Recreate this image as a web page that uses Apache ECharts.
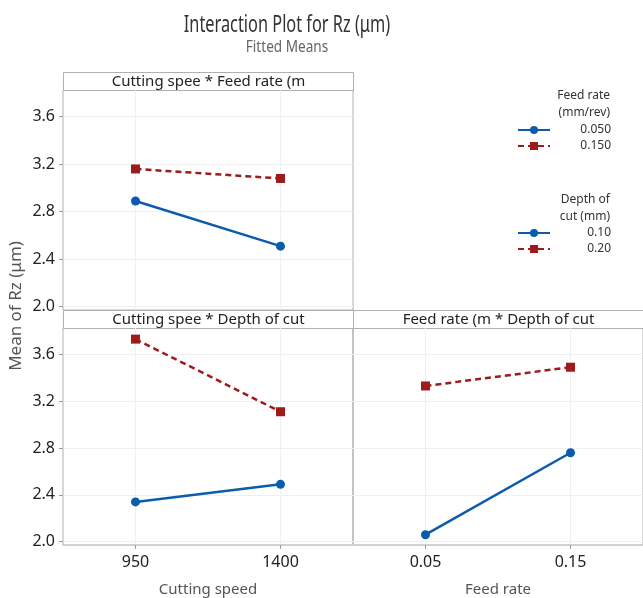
<!DOCTYPE html>
<html>
<head>
<meta charset="utf-8">
<script src="https://cdn.jsdelivr.net/npm/echarts@6/dist/echarts.min.js"></script>
<style>
  html, body { margin: 0; padding: 0; background: #fff; }
  #main { width: 643px; height: 598px; }
</style>
</head>
<body>
<div id="main"></div>
<script>
// factor levels
var speedLevels = [950, 1400];
var feedLevels = [0.05, 0.15];
var yTicks = [2.0, 2.4, 2.8, 3.2, 3.6];

// Cutting speed * Feed rate
var speedFeed050 = [2.89, 2.51];
var speedFeed150 = [3.16, 3.08];
// Cutting speed * Depth of cut
var speedDepth010 = [2.34, 2.49];
var speedDepth020 = [3.73, 3.11];
// Feed rate * Depth of cut
var feedDepth010 = [2.06, 2.76];
var feedDepth020 = [3.33, 3.49];

var BLUE = '#0b5cad';
var RED = '#9e1b1b';
var FONT = 'Noto Sans';

function pairs(xs, ys) {
  return xs.map(function (x, i) { return [x, ys[i]]; });
}

function blueLine(name, idx, data) {
  return {
    name: name, type: 'line', xAxisIndex: idx, yAxisIndex: idx,
    data: data, symbol: 'circle', symbolSize: 9,
    itemStyle: { color: BLUE },
    lineStyle: { color: BLUE, width: 2.5 }
  };
}
function redLine(name, idx, data) {
  return {
    name: name, type: 'line', xAxisIndex: idx, yAxisIndex: idx,
    data: data, symbol: 'rect', symbolSize: 9,
    itemStyle: { color: RED },
    lineStyle: { color: RED, width: 2.5, type: [6, 4] }
  };
}

function xAxisOf(grid, min, max, ticks, showLabel, name) {
  return {
    type: 'value', gridIndex: grid, min: min, max: max,
    name: name || '', nameLocation: 'middle', nameGap: 37,
    nameTextStyle: { color: '#555', fontSize: 15, fontFamily: FONT },
    axisLine: { show: showLabel, lineStyle: { color: '#cfcfcf', width: 1.5 } },
    axisTick: { show: showLabel, customValues: ticks, length: 4, lineStyle: { color: '#999' } },
    axisLabel: {
      show: showLabel, customValues: ticks, color: '#222', fontSize: 16, fontFamily: FONT, margin: 9,
      formatter: function (v) { return String(v); }
    },
    splitLine: { show: true, lineStyle: { color: '#f0f0f0' } }
  };
}
function yAxisOf(grid, showLabel) {
  return {
    type: 'value', gridIndex: grid, min: 1.972, max: 3.825,
    axisLine: { show: false },
    axisTick: { show: showLabel, customValues: yTicks, length: 4, lineStyle: { color: '#999' } },
    axisLabel: {
      show: showLabel, customValues: yTicks, color: '#222', fontSize: 16, fontFamily: FONT, margin: 8,
      formatter: function (v) { return v.toFixed(1); }
    },
    splitLine: { show: true, lineStyle: { color: '#f0f0f0' } }
  };
}

function header(x, y, text) {
  return {
    type: 'group', left: x, top: y,
    children: [
      { type: 'rect', shape: { x: 0, y: 0, width: 290, height: 18 },
        style: { fill: '#fff', stroke: '#b0b0b0', lineWidth: 1 } },
      { type: 'text', x: 145, y: 9,
        style: { text: text, fill: '#222', font: '15px "' + FONT + '"', align: 'center', verticalAlign: 'middle' } }
    ]
  };
}

var legendText = {
  color: '#333', fontSize: 12, fontFamily: FONT,
  rich: { v: { width: 56, align: 'right', fontSize: 12, fontFamily: FONT, color: '#333' } }
};

var chart = echarts.init(document.getElementById('main'));

var option = {
  backgroundColor: '#fff',
  animation: false,
  title: [
    {
      text: 'Feed rate\n(mm/rev)', left: 610, top: 87, textAlign: 'right', padding: 0,
      textStyle: { fontFamily: FONT, fontSize: 12, fontWeight: 'normal', color: '#333', lineHeight: 17, align: 'right' }
    },
    {
      text: 'Depth of\ncut (mm)', left: 610, top: 191, textAlign: 'right', padding: 0,
      textStyle: { fontFamily: FONT, fontSize: 12, fontWeight: 'normal', color: '#333', lineHeight: 17, align: 'right' }
    }
  ],
  legend: [
    {
      data: ['0.050', '0.150'], orient: 'vertical', left: 517, top: 124, padding: 0,
      itemWidth: 32, itemHeight: 10, itemGap: 4,
      formatter: '{v|{name}}', textStyle: legendText
    },
    {
      data: ['0.10', '0.20'], orient: 'vertical', left: 517, top: 227, padding: 0,
      itemWidth: 32, itemHeight: 10, itemGap: 4,
      formatter: '{v|{name}}', textStyle: legendText
    }
  ],
  grid: [
    { left: 63, top: 90, width: 290, height: 220, show: true, borderColor: '#b0b0b0', borderWidth: 1 },
    { left: 63, top: 328, width: 290, height: 220, show: true, borderColor: '#b0b0b0', borderWidth: 1 },
    { left: 353, top: 328, width: 290, height: 220, show: true, borderColor: '#b0b0b0', borderWidth: 1 }
  ],
  xAxis: [
    xAxisOf(0, 725, 1625, speedLevels, false),
    xAxisOf(1, 725, 1625, speedLevels, true, 'Cutting speed'),
    xAxisOf(2, 0, 0.2, feedLevels, true, 'Feed rate')
  ],
  yAxis: [yAxisOf(0, true), yAxisOf(1, true), yAxisOf(2, false)],
  graphic: [
    {
      type: 'text', x: 287, y: 25, scaleX: 0.71,
      style: { text: 'Interaction Plot for Rz (μm)', fill: '#333', font: '23px "' + FONT + '"', align: 'center', verticalAlign: 'middle' }
    },
    {
      type: 'text', x: 287, y: 47, scaleX: 0.8,
      style: { text: 'Fitted Means', fill: '#666', font: '17px "' + FONT + '"', align: 'center', verticalAlign: 'middle' }
    },
    header(63, 72, 'Cutting spee * Feed rate (m'),
    header(63, 310, 'Cutting spee * Depth of cut'),
    header(353, 310, 'Feed rate (m * Depth of cut'),
    {
      type: 'text', x: 16, y: 306, rotation: Math.PI / 2,
      style: { text: 'Mean of Rz (μm)', fill: '#555', font: '17px "' + FONT + '"', align: 'center', verticalAlign: 'middle' }
    }
  ],
  series: [
    blueLine('0.050', 0, pairs(speedLevels, speedFeed050)),
    redLine('0.150', 0, pairs(speedLevels, speedFeed150)),
    blueLine('0.10', 1, pairs(speedLevels, speedDepth010)),
    redLine('0.20', 1, pairs(speedLevels, speedDepth020)),
    blueLine('0.10', 2, pairs(feedLevels, feedDepth010)),
    redLine('0.20', 2, pairs(feedLevels, feedDepth020))
  ]
};

chart.setOption(option);
</script>
</body>
</html>
